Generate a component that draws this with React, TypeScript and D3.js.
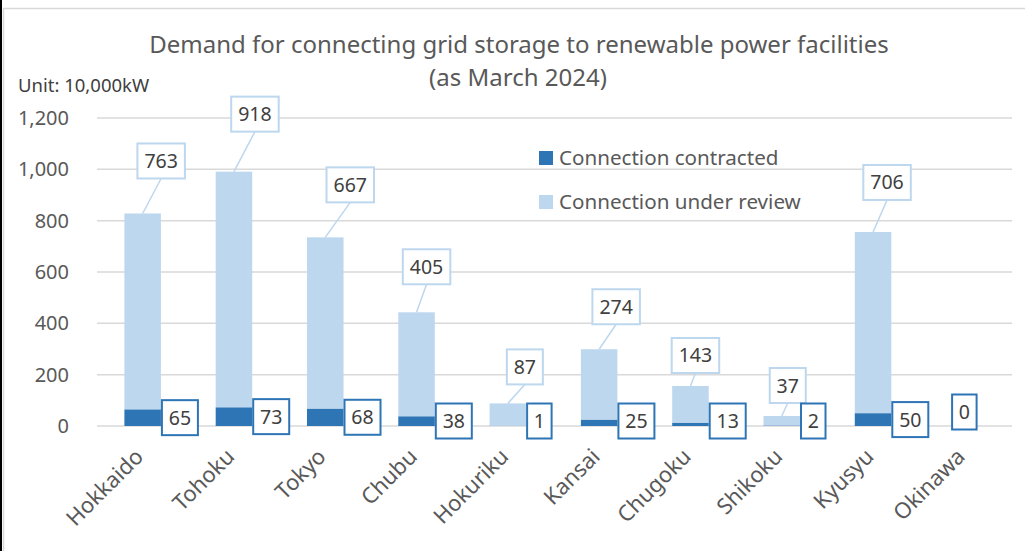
import React from "react";
import * as d3 from "d3";

const categories = ["Hokkaido", "Tohoku", "Tokyo", "Chubu", "Hokuriku", "Kansai", "Chugoku", "Shikoku", "Kyusyu", "Okinawa"];
const contracted = [65, 73, 68, 38, 1, 25, 13, 2, 50, 0];
const underReview = [763, 918, 667, 405, 87, 274, 143, 37, 706, 0];
const yTicks = [0, 200, 400, 600, 800, 1000, 1200];
const seriesNames = ["Connection contracted", "Connection under review"];

// layout of hand-placed callouts (offset from bar centre, gap above bar top)
const calloutDx = [18.5, 21, 25, 10, 17, 17, 5, 6, 14, 0];
const calloutGap = [35, 40, 35, 28, 19, 25, 13, 13, 32, 0];

const W = 1025;
const H = 551;
const FONT = "'Noto Sans', 'Open Sans', sans-serif";
const DARK = "#2E75B6";
const LIGHT = "#BDD7EE";
const GRID = "#D9D9D9";
const TXT = "#595959";
const NUM = "#404040";

export default function App() {
  const x = d3.scaleBand<string>().domain(categories).range([97, 1010]).paddingInner(0.6).paddingOuter(0.3);
  const y = d3.scaleLinear().domain([0, 1200]).range([426, 118]);
  const table = categories.map((c, i) => ({ cat: c, contracted: contracted[i], review: underReview[i] }));
  const stack = d3.stack<any>().keys(["contracted", "review"])(table);
  const fmt = d3.format(",");
  const bw = x.bandwidth();
  const boxW = (s: string) => 11.5 * s.length + 13;
  const boxH = 35;

  return (
    <svg width={W} height={H} style={{ position: "absolute", left: 0, top: 0, background: "#fff" }} fontFamily={FONT}>
      <rect x={3.5} y={8.5} width={1040} height={560} fill="#fff" stroke={GRID} strokeWidth={1.5} />
      <line x1={1} x2={1} y1={0} y2={H} stroke="#000" strokeWidth={2} />

      <text x={519} y={53} textAnchor="middle" fontSize={24} fill={TXT}>
        Demand for connecting grid storage to renewable power facilities
      </text>
      <text x={518} y={86} textAnchor="middle" fontSize={24} fill={TXT}>
        (as March 2024)
      </text>
      <text x={18} y={92} fontSize={18.5} fill="#404040">Unit: 10,000kW</text>

      {yTicks.map((t) => (
        <g key={t}>
          <line x1={97} x2={1012} y1={y(t)} y2={y(t)} stroke={GRID} strokeWidth={1.5} />
          <text x={69} y={y(t)} dy="0.35em" textAnchor="end" fontSize={20} fill={TXT}>
            {fmt(t)}
          </text>
        </g>
      ))}

      {stack.map((s, si) => (
        <g key={si} fill={si === 0 ? DARK : LIGHT}>
          {s.map((d, i) => (
            <rect key={i} x={x(categories[i])} width={bw} y={y(d[1])} height={Math.max(0, y(d[0]) - y(d[1]))} />
          ))}
        </g>
      ))}

      {/* under review callouts */}
      {categories.map((c, i) => {
        const v = underReview[i];
        if (!v) return null;
        const cx = (x(c) as number) + bw / 2;
        const top = y(contracted[i] + v);
        const bx = cx + calloutDx[i];
        const bottom = top - calloutGap[i];
        const s = String(v);
        const w = boxW(s);
        return (
          <g key={c}>
            <line x1={cx} y1={top} x2={bx} y2={bottom} stroke={LIGHT} strokeWidth={1.5} />
            <rect x={bx - w / 2} y={bottom - boxH} width={w} height={boxH} fill="#fff" stroke={LIGHT} strokeWidth={2} />
            <text x={bx} y={bottom - boxH / 2} dy="0.36em" textAnchor="middle" fontSize={19.5} fill={NUM}>
              {s}
            </text>
          </g>
        );
      })}

      {/* contracted labels */}
      {categories.map((c, i) => {
        const v = contracted[i];
        const s = String(v);
        const w = boxW(s);
        const left = x(c) as number;
        let bx: number;
        let by: number;
        if (v === 0 && underReview[i] === 0) {
          bx = left + bw / 2;
          by = y(0) - 14;
        } else {
          bx = left + bw + 1 + w / 2;
          by = Math.min(y(v / 2), 421);
        }
        return (
          <g key={c}>
            <rect x={bx - w / 2} y={by - boxH / 2} width={w} height={boxH} fill="#fff" stroke={DARK} strokeWidth={2} />
            <text x={bx} y={by} dy="0.36em" textAnchor="middle" fontSize={19.5} fill={NUM}>
              {s}
            </text>
          </g>
        );
      })}

      {/* category labels */}
      {categories.map((c) => {
        const px = (x(c) as number) + bw / 2 + 2;
        const py = 458;
        return (
          <text key={c} transform={`translate(${px},${py}) rotate(-45)`} textAnchor="end" fontSize={22} fill={TXT}>
            {c}
          </text>
        );
      })}

      {/* legend */}
      {seriesNames.map((n, i) => (
        <g key={n} transform={`translate(539,${151 + i * 44})`}>
          <rect width={14} height={14} fill={i === 0 ? DARK : LIGHT} />
          <text x={20} y={7} dy="0.36em" fontSize={20.6} fill={TXT}>
            {n}
          </text>
        </g>
      ))}
    </svg>
  );
}
